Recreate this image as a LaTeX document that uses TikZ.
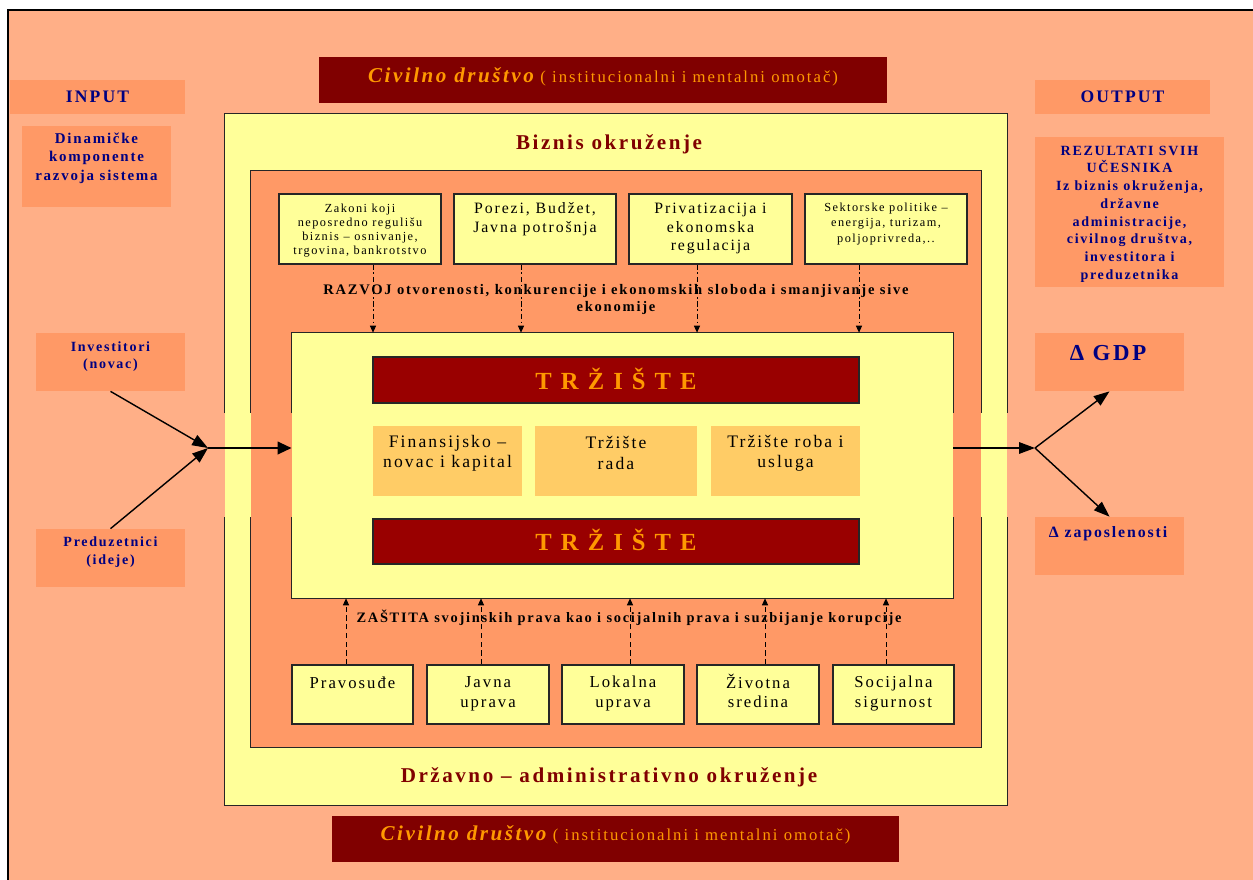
\documentclass[tikz,border=0pt]{standalone}
\usepackage{fontspec}
\setmainfont{Liberation Serif}[LetterSpace=12]
\usetikzlibrary{arrows.meta}

\definecolor{salmon}{RGB}{255,175,135}
\definecolor{peach}{RGB}{255,153,102}
\definecolor{paleyellow}{RGB}{255,255,153}
\definecolor{gold}{RGB}{255,204,102}
\definecolor{maroon}{RGB}{128,0,0}
\definecolor{crimson}{RGB}{153,0,0}
\definecolor{amber}{RGB}{255,153,0}
\definecolor{navy}{RGB}{0,0,128}

\newcommand{\fsize}[2]{\fontsize{#1}{#2}\selectfont}

\tikzset{
  wh/.style 2 args={minimum width=#1*0.02cm, minimum height=#2*0.02cm, inner sep=0pt},
  frame/.style={draw=black!85, line width=0.6pt},
  patch/.style={fill=peach},
  ybox/.style={frame, fill=paleyellow},
  navytext/.style={text=navy, font=\bfseries\fsize{8}{10}, align=center},
  boxtext/.style={align=center, font=\fsize{9.5}{11.2}},
  smalltext/.style={align=center, font=\fsize{7}{8}},
  bar/.style={frame, fill=crimson, text=amber, font=\bfseries\fsize{14}{16}},
  civbar/.style={fill=maroon, text=amber},
  flow/.style={line width=0.8pt, -{Triangle[length=9pt,width=6.5pt]}},
  bigflow/.style={line width=1.6pt, -{Triangle[length=8pt,width=7pt]}},
  dashup/.style={line width=0.5pt, dashed, dash pattern=on 3pt off 2pt, -{Triangle[length=4pt,width=3.5pt]}},
  dotdown/.style={line width=0.5pt, dash pattern=on 3pt off 1.5pt on 1pt off 1.5pt, -{Triangle[length=4pt,width=3.5pt]}}
}

\begin{document}
\begin{tikzpicture}[x=0.02cm, y=-0.02cm]

  \useasboundingbox (0,0) rectangle (1253,879);
  \draw[line width=0.8pt, fill=salmon] (8,10) rectangle (1300,950);

  % input side
  \node[patch, wh={175}{34}, navytext, font=\bfseries\fsize{10}{12}] (input) at (97.5,97) {INPUT};
  \node[patch, wh={149}{81}] (dyn) at (96.5,166.5) {};
  \node[navytext, font=\bfseries\fsize{8.5}{10.5}] (dyntext) at (96.5,158) {Dinamičke\\komponente\\razvoja sistema};
  \node[patch, wh={149}{58}] (inv) at (110.5,362) {};
  \node[navytext] (invtext) at (110.5,356.5) {Investitori\\(novac)};
  \node[patch, wh={149}{58}] (pred) at (110.5,558) {};
  \node[navytext] (predtext) at (110.5,552) {Preduzetnici\\(ideje)};

  % output side
  \node[patch, wh={175}{34}, navytext, font=\bfseries\fsize{10}{12}] (output) at (1122.5,97) {OUTPUT};
  \node[patch, wh={189}{150}] (rez) at (1129.5,212) {};
  \node[navytext, font=\bfseries\fsize{8}{10.1}] (reztext) at (1129.5,214) {REZULTATI SVIH\\UČESNIKA\\Iz biznis okruženja,\\državne\\administracije,\\civilnog društva,\\investitora i\\preduzetnika};
  \node[patch, wh={149}{58}] (gdp) at (1109.5,362) {};
  \node[navytext, font=\bfseries\fsize{13}{15}] (gdptext) at (1108,353) {Δ GDP};
  \node[patch, wh={149}{58}] (zap) at (1109.5,546) {};
  \node[navytext, font=\bfseries\fsize{9}{11}] (zaptext) at (1108,534) {Δ zaposlenosti};

  % civil society wrappers
  \node[civbar, wh={568}{46}] (civtop) at (603,80) {};
  \node (civtoptext) at (603,77) {{\bfseries\itshape\color{amber}\fsize{12}{14}Civilno društvo} {\color{amber}\fsize{9.5}{11}( institucionalni i mentalni omotač)}};
  \node[civbar, wh={567}{46}] (civbot) at (615.5,839) {};
  \node (civbottext) at (615.5,835) {{\bfseries\itshape\color{amber}\fsize{12}{14}Civilno društvo} {\color{amber}\fsize{9.5}{11}( institucionalni i mentalni omotač)}};

  % nested environments
  \node[fill=paleyellow, wh={782}{691}] (okr) at (616,459.5) {};
  \node[patch, wh={730}{576}] (core) at (616,459) {};
  \node[fill=paleyellow, wh={661}{265}] (trz) at (622.5,465.5) {};
  \draw[frame] (okr.west |- 0,413) -- (okr.north west) -- (okr.north east) -- (okr.east |- 0,413);
  \draw[frame] (okr.west |- 0,517) -- (okr.south west) -- (okr.south east) -- (okr.east |- 0,517);
  \draw[frame] (core.west |- 0,413) -- (core.north west) -- (core.north east) -- (core.east |- 0,413);
  \draw[frame] (core.west |- 0,517) -- (core.south west) -- (core.south east) -- (core.east |- 0,517);
  \draw[frame] (trz.west |- 0,413) -- (trz.north west) -- (trz.north east) -- (trz.east |- 0,413);
  \draw[frame] (trz.west |- 0,517) -- (trz.south west) -- (trz.south east) -- (trz.east |- 0,517);

  \node[text=maroon, font=\bfseries\fsize{12}{14}] (biznis) at (609,144) {Biznis okruženje};
  \node[text=maroon, font=\bfseries\fsize{12}{14}] (drzavno) at (609,777) {Državno – administrativno okruženje};

  % business policies
  \node[ybox, wh={162}{70}] (zakoni) at (360,229) {};
  \node[smalltext] (zakonitext) at (360,230.5) {Zakoni koji\\neposredno regulišu\\biznis – osnivanje,\\trgovina, bankrotstvo};
  \node[ybox, wh={162}{70}] (porezi) at (535,229) {};
  \node[boxtext, font=\fsize{9}{10.5}] (porezitext) at (535,219) {Porezi, Budžet,\\Javna potrošnja};
  \node[ybox, wh={163}{70}] (priv) at (710.5,229) {};
  \node[boxtext, font=\fsize{9}{10.5}] (privtext) at (710.5,228.5) {Privatizacija i\\ekonomska\\regulacija};
  \node[ybox, wh={162}{70}] (sekt) at (886,229) {};
  \node[smalltext, font=\fsize{7}{9}] (sekttext) at (886,224) {Sektorske politike –\\energija, turizam,\\poljoprivreda,..};

  \node[align=center, font=\bfseries\fsize{8.3}{9.8}] (razvoj) at (616,299.5) {RAZVOJ otvorenosti, konkurencije i ekonomskih sloboda i smanjivanje sive\\ekonomije};

  % market
  \node[bar, wh={486}{46}] (bartop) at (616,380) {\raisebox{1.5pt}{T R Ž I Š T E}};
  \node[fill=gold, wh={149}{70}] (fin) at (447.5,461) {};
  \node[boxtext, font=\fsize{10}{11.5}] (fintext) at (447.5,453) {Finansijsko –\\novac i kapital};
  \node[fill=gold, wh={162}{70}] (rad) at (616,461) {};
  \node[boxtext, font=\fsize{10}{11.5}] (radtext) at (616,453) {Tržište\\rada};
  \node[fill=gold, wh={149}{70}] (roba) at (785.5,461) {};
  \node[boxtext, font=\fsize{10}{11.5}] (robatext) at (785.5,453) {Tržište roba i\\usluga};
  \node[bar, wh={486}{45}] (barbot) at (616,541.5) {\raisebox{1.5pt}{T R Ž I Š T E}};

  \node[font=\bfseries\fsize{8.2}{10}] (zastita) at (629,618) {ZAŠTITA svojinskih prava kao i socijalnih prava i suzbijanje korupcije};

  % state institutions
  \node[ybox, wh={121}{59}] (prav) at (352.5,694.5) {};
  \node[boxtext] (pravtext) at (352.5,683) {Pravosuđe};
  \node[ybox, wh={122}{59}] (javna) at (488,694.5) {};
  \node[boxtext] (javnatext) at (488,693.5) {Javna\\uprava};
  \node[ybox, wh={122}{59}] (lok) at (623,694.5) {};
  \node[boxtext] (loktext) at (623,693.5) {Lokalna\\uprava};
  \node[ybox, wh={122}{59}] (ziv) at (758,694.5) {};
  \node[boxtext] (zivtext) at (758,691) {Životna\\sredina};
  \node[ybox, wh={121}{59}] (soc) at (893.5,694.5) {};
  \node[boxtext] (soctext) at (893.5,693.5) {Socijalna\\sigurnost};

  % influences on the market
  \foreach \b/\dx in {zakoni/13, porezi/-14, priv/-13.5, sekt/-27}
    \draw[dotdown] ([xshift=\dx*0.02cm]\b.south) -- ([xshift=\dx*0.02cm]\b.south |- trz.north);
  \foreach \b/\dx in {prav/-6.5, javna/-7, lok/7, ziv/7, soc/-7.5}
    \draw[dashup] ([xshift=\dx*0.02cm]\b.north) -- ([xshift=\dx*0.02cm]\b.north |- trz.south);

  % flows in and out
  \coordinate (jin) at (208,448);
  \coordinate (jout) at (1035,448);
  \draw[flow] (inv.south) -- (jin);
  \draw[flow] (pred.north) -- (jin);
  \draw[bigflow] (jin) -- (jin -| trz.west);
  \draw[flow] (jout -| trz.east) -- (jout);
  \draw[flow] (jout) -- (gdp.south);
  \draw[flow] (jout) -- (zap.north);

\end{tikzpicture}
\end{document}
